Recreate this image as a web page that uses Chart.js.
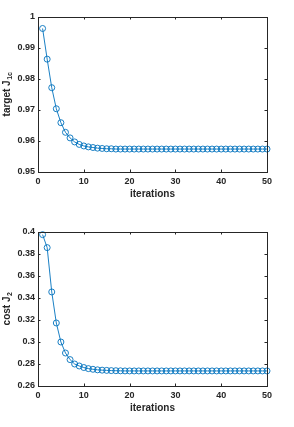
<!DOCTYPE html>
<html>
<head>
<meta charset="utf-8">
<script src="https://cdn.jsdelivr.net/npm/chart.js@4.4.1/dist/chart.umd.min.js"></script>
<style>
  html, body { margin: 0; padding: 0; background: #fff; }
  canvas { position: absolute; left: 0; }
  #c1 { top: 0; }
  #c2 { top: 213px; }
</style>
</head>
<body>
<canvas id="c1" width="294" height="213"></canvas>
<canvas id="c2" width="294" height="214"></canvas>
<script>
// iterations 1..50
const iterations = [1,2,3,4,5,6,7,8,9,10,11,12,13,14,15,16,17,18,19,20,
  21,22,23,24,25,26,27,28,29,30,31,32,33,34,35,36,37,38,39,40,
  41,42,43,44,45,46,47,48,49,50];

// target J1c
const targetJ1c = [0.9963, 0.9864, 0.9772, 0.9704, 0.9659, 0.9628, 0.9610, 0.9597, 0.9589, 0.9584,
  0.9581, 0.9579, 0.9577, 0.9576, 0.9575, 0.9575, 0.9574, 0.9574, 0.9574, 0.9574,
  0.9574, 0.9574, 0.9574, 0.9574, 0.9574, 0.9574, 0.9574, 0.9574, 0.9574, 0.9574,
  0.9574, 0.9574, 0.9574, 0.9574, 0.9574, 0.9574, 0.9574, 0.9574, 0.9574, 0.9574,
  0.9574, 0.9574, 0.9574, 0.9574, 0.9574, 0.9574, 0.9574, 0.9574, 0.9574, 0.9574];

// cost J2
const costJ2 = [0.3976, 0.3858, 0.3455, 0.3173, 0.3000, 0.2900, 0.2840, 0.2800, 0.2782, 0.2768,
  0.2758, 0.2752, 0.2747, 0.2744, 0.2742, 0.2740, 0.2739, 0.2738, 0.2737, 0.2737,
  0.2737, 0.2737, 0.2737, 0.2737, 0.2737, 0.2737, 0.2737, 0.2737, 0.2737, 0.2737,
  0.2737, 0.2737, 0.2737, 0.2737, 0.2737, 0.2737, 0.2737, 0.2737, 0.2737, 0.2737,
  0.2737, 0.2737, 0.2737, 0.2737, 0.2737, 0.2737, 0.2737, 0.2737, 0.2737, 0.2737];

const xTicks = [0, 10, 20, 30, 40, 50];
const yTicksTop = [0.95, 0.96, 0.97, 0.98, 0.99, 1];
const yTicksBottom = [0.26, 0.28, 0.3, 0.32, 0.34, 0.36, 0.38, 0.4];

const ink = "#262626";
const blue = "#0072BD";

// box + inward ticks + y title with subscript (MATLAB look)
const framePlugin = {
    id: "frame",
    afterDraw(chart, args, opts) {
        const ctx = chart.ctx;
        const a = chart.chartArea;
        const x = chart.scales.x, y = chart.scales.y;
        ctx.save();
        ctx.strokeStyle = ink;
        ctx.lineWidth = 1;
        ctx.strokeRect(Math.round(a.left) + 0.5, Math.round(a.top) + 0.5,
            Math.round(a.right - a.left), Math.round(a.bottom - a.top));
        ctx.beginPath();
        x.ticks.forEach(t => {
            let px = Math.round(x.getPixelForValue(t.value)) + 0.5;
            ctx.moveTo(px, a.bottom); ctx.lineTo(px, a.bottom - 2.5);
            ctx.moveTo(px, a.top); ctx.lineTo(px, a.top + 2.5);
        });
        y.ticks.forEach(t => {
            let py = Math.round(y.getPixelForValue(t.value)) + 0.5;
            ctx.moveTo(a.left, py); ctx.lineTo(a.left + 2.5, py);
            ctx.moveTo(a.right, py); ctx.lineTo(a.right - 2.5, py);
        });
        ctx.stroke();

        // y title
        const mainFont = "bold 10px 'Liberation Sans', Arial, sans-serif";
        const subFont = "bold 7px 'Liberation Sans', Arial, sans-serif";
        ctx.font = mainFont;
        const w1 = ctx.measureText(opts.main).width;
        ctx.font = subFont;
        const w2 = ctx.measureText(opts.sub).width;
        ctx.translate(opts.x, (a.top + a.bottom) / 2);
        ctx.rotate(-Math.PI / 2);
        ctx.fillStyle = ink;
        ctx.textBaseline = "middle";
        ctx.textAlign = "left";
        let start = -(w1 + w2) / 2;
        ctx.font = mainFont;
        ctx.fillText(opts.main, start, 0);
        ctx.font = subFont;
        ctx.fillText(opts.sub, start + w1 + 0.5, 3.5);
        ctx.restore();
    }
};

function makeChart(id, values, yMin, yMax, yStep, yTicks, padTop, titleMain, titleSub) {
    let points = iterations.map((it, i) => ({ x: it, y: values[i] }));
    new Chart(document.getElementById(id), {
        type: "line",
        data: {
            datasets: [{
                data: points,
                borderColor: blue,
                borderWidth: 0.9,
                pointStyle: "circle",
                pointRadius: 3,
                pointBorderWidth: 0.9,
                pointBorderColor: blue,
                pointBackgroundColor: "rgba(0,0,0,0)",
                tension: 0,
                clip: false
            }]
        },
        options: {
            responsive: false,
            animation: false,
            events: [],
            layout: { padding: { top: padTop, right: 27, left: 0, bottom: 0 } },
            plugins: {
                legend: { display: false },
                tooltip: { enabled: false },
                frame: { main: titleMain, sub: titleSub, x: 7 }
            },
            scales: {
                x: {
                    type: "linear",
                    min: 0,
                    max: 50,
                    afterBuildTicks: s => { s.ticks = xTicks.map(v => ({ value: v })); },
                    grid: { display: false, drawTicks: false },
                    border: { display: false },
                    ticks: {
                        color: ink,
                        padding: 4,
                        maxRotation: 0,
                        font: { family: "'Liberation Sans', Arial, sans-serif", size: 9, weight: "bold" }
                    },
                    title: {
                        display: true,
                        text: "iterations",
                        color: ink,
                        padding: { top: 0, bottom: 13 },
                        font: { family: "'Liberation Sans', Arial, sans-serif", size: 10, weight: "bold" }
                    },
                    afterFit: s => { s.height = 41; }
                },
                y: {
                    min: yMin,
                    max: yMax,
                    afterBuildTicks: s => { s.ticks = yTicks.map(v => ({ value: v })); },
                    grid: { display: false, drawTicks: false },
                    border: { display: false },
                    ticks: {
                        color: ink,
                        padding: 3,
                        callback: v => String(parseFloat(v.toFixed(2))),
                        font: { family: "'Liberation Sans', Arial, sans-serif", size: 9, weight: "bold" }
                    },
                    afterFit: s => { s.width = 38; }
                }
            }
        },
        plugins: [framePlugin]
    });
}

makeChart("c1", targetJ1c, 0.95, 1, 0.01, yTicksTop, 17, "target J", "1c");
makeChart("c2", costJ2, 0.26, 0.4, 0.02, yTicksBottom, 19, "cost J", "2");
</script>
</body>
</html>
